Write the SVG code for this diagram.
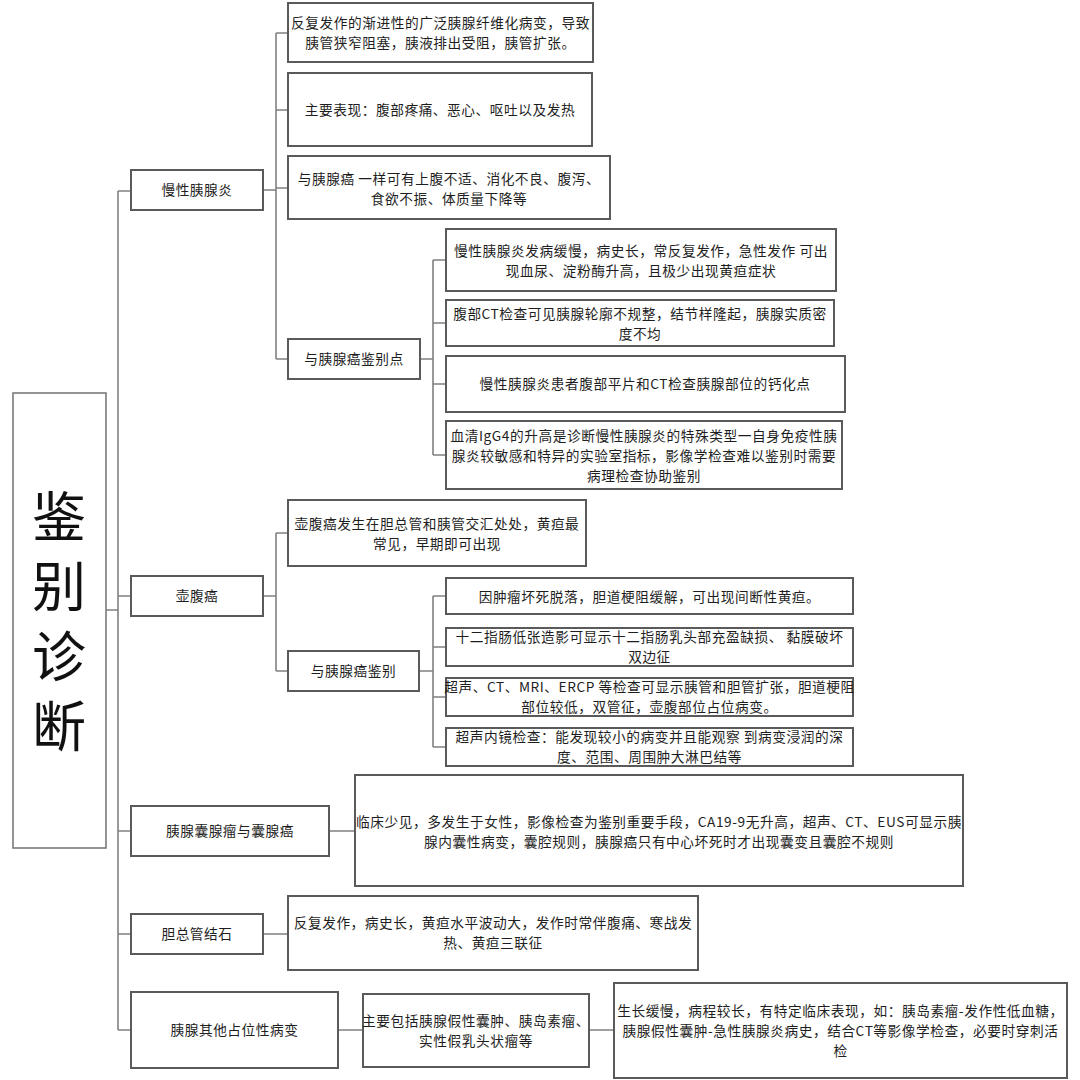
<svg xmlns="http://www.w3.org/2000/svg" width="1080" height="1080" viewBox="0 0 1080 1080">
<style>
.bx{fill:#fff;stroke:#5a5a5a;stroke-width:2}
.rt{fill:#fff;stroke:#7a7a7a;stroke-width:1.6}
.t{font-family:"Noto Sans CJK SC","Noto Sans",sans-serif;font-size:13.7px;letter-spacing:0.55px;fill:#1e1e1e;text-anchor:middle}
.big{font-family:"Noto Sans CJK SC","Noto Sans",sans-serif;font-size:54px;fill:#111;writing-mode:vertical-rl;letter-spacing:16px;text-anchor:start}
.cn{fill:none;stroke:#808080;stroke-width:1.6}
</style>
<rect width="1080" height="1080" fill="#fff"/>
<g id="connectors">
<path class="cn" d="M106,610H118M118,191V1030M118,191H131M118,596H131M118,831H131M118,934H131M118,1030H131"/>
<path class="cn" d="M263,190H276M276,33V359M276,33H288M276,110H288M276,188H288M276,359H288"/>
<path class="cn" d="M420,359H433M433,260V455M433,260H446M433,323H446M433,384H446M433,455H446"/>
<path class="cn" d="M263,596H276M276,533V671M276,533H288M276,671H288"/>
<path class="cn" d="M419,671H433M433,596V747M433,596H446M433,647H446M433,697H446M433,747H446"/>
<path class="cn" d="M329,831H355M263,934H288M338,1030H363M589,1030H614"/>
</g>
<g id="root">
<rect class="rt" x="13" y="393" width="93" height="455"/>
<text class="big" x="59" y="489">鉴别诊断</text>
</g>
<g id="n1">
<rect class="bx" x="131" y="170" width="132" height="40"/>
<text class="t" x="197" y="195">慢性胰腺炎</text>
</g>
<g id="n1a">
<rect class="bx" x="288" y="3" width="305" height="59"/>
<text class="t" x="440.5" y="28">反复发作的渐进性的广泛胰腺纤维化病变，导致<tspan x="440.5" dy="20">胰管狭窄阻塞，胰液排出受阻，胰管扩张。</tspan></text>
</g>
<g id="n1b">
<rect class="bx" x="288" y="73" width="304" height="73"/>
<text class="t" x="440" y="115">主要表现：腹部疼痛、恶心、呕吐以及发热</text>
</g>
<g id="n1c">
<rect class="bx" x="288" y="156" width="322" height="63"/>
<text class="t" x="449" y="184">与胰腺癌 一样可有上腹不适、消化不良、腹泻、<tspan x="449" dy="20">食欲不振、体质量下降等</tspan></text>
</g>
<g id="n1d">
<rect class="bx" x="288" y="339" width="132" height="40"/>
<text class="t" x="354" y="364">与胰腺癌鉴别点</text>
</g>
<g id="n1d1">
<rect class="bx" x="446" y="229" width="390" height="62"/>
<text class="t" x="641" y="256">慢性胰腺炎发病缓慢，病史长，常反复发作，急性发作 可出<tspan x="641" dy="20">现血尿、淀粉酶升高，且极少出现黄疸症状</tspan></text>
</g>
<g id="n1d2">
<rect class="bx" x="446" y="300" width="388" height="46"/>
<text class="t" x="640" y="319">腹部CT检查可见胰腺轮廓不规整，结节样隆起，胰腺实质密<tspan x="640" dy="20">度不均</tspan></text>
</g>
<g id="n1d3">
<rect class="bx" x="446" y="356" width="399" height="56"/>
<text class="t" x="645" y="389">慢性胰腺炎患者腹部平片和CT检查胰腺部位的钙化点</text>
</g>
<g id="n1d4">
<rect class="bx" x="446" y="421" width="396" height="68"/>
<text class="t" x="644" y="441">血清IgG4的升高是诊断慢性胰腺炎的特殊类型一自身免疫性胰<tspan x="644" dy="20">腺炎较敏感和特异的实验室指标，影像学检查难以鉴别时需要</tspan><tspan x="644" dy="20">病理检查协助鉴别</tspan></text>
</g>
<g id="n2">
<rect class="bx" x="131" y="576" width="132" height="40"/>
<text class="t" x="197" y="601">壶腹癌</text>
</g>
<g id="n2a">
<rect class="bx" x="288" y="500" width="298" height="66"/>
<text class="t" x="437" y="529">壶腹癌发生在胆总管和胰管交汇处处，黄疸最<tspan x="437" dy="20">常见，早期即可出现</tspan></text>
</g>
<g id="n2b">
<rect class="bx" x="288" y="651" width="131" height="40"/>
<text class="t" x="353.5" y="676">与胰腺癌鉴别</text>
</g>
<g id="n2b1">
<rect class="bx" x="446" y="578" width="407" height="36"/>
<text class="t" x="649.5" y="602">因肿瘤坏死脱落，胆道梗阻缓解，可出现间断性黄疸。</text>
</g>
<g id="n2b2">
<rect class="bx" x="446" y="628" width="407" height="38"/>
<text class="t" x="649.5" y="642">十二指肠低张造影可显示十二指肠乳头部充盈缺损、 黏膜破坏<tspan x="649.5" dy="20">双边征</tspan></text>
</g>
<g id="n2b3">
<rect class="bx" x="446" y="678" width="407" height="38"/>
<text class="t" x="649.5" y="692">超声、CT、MRI、ERCP 等检查可显示胰管和胆管扩张，胆道梗阻<tspan x="649.5" dy="20">部位较低，双管征，壶腹部位占位病变。</tspan></text>
</g>
<g id="n2b4">
<rect class="bx" x="446" y="728" width="407" height="38"/>
<text class="t" x="649.5" y="742">超声内镜检查：能发现较小的病变并且能观察 到病变浸润的深<tspan x="649.5" dy="20">度、范围、周围肿大淋巴结等</tspan></text>
</g>
<g id="n3">
<rect class="bx" x="131" y="806" width="198" height="50"/>
<text class="t" x="230" y="836">胰腺囊腺瘤与囊腺癌</text>
</g>
<g id="n3a">
<rect class="bx" x="355" y="775" width="608" height="111"/>
<text class="t" x="659" y="827">临床少见，多发生于女性，影像检查为鉴别重要手段，CA19-9无升高，超声、CT、EUS可显示胰<tspan x="659" dy="20">腺内囊性病变，囊腔规则，胰腺癌只有中心坏死时才出现囊变且囊腔不规则</tspan></text>
</g>
<g id="n4">
<rect class="bx" x="131" y="914" width="132" height="40"/>
<text class="t" x="197" y="939">胆总管结石</text>
</g>
<g id="n4a">
<rect class="bx" x="288" y="896" width="410" height="74"/>
<text class="t" x="493" y="928">反复发作，病史长，黄疸水平波动大，发作时常伴腹痛、寒战发<tspan x="493" dy="20">热、黄疸三联征</tspan></text>
</g>
<g id="n5">
<rect class="bx" x="131" y="992" width="207" height="76"/>
<text class="t" x="234.5" y="1035">胰腺其他占位性病变</text>
</g>
<g id="n5a">
<rect class="bx" x="363" y="994" width="226" height="73"/>
<text class="t" x="476" y="1026">主要包括胰腺假性囊肿、胰岛素瘤、<tspan x="476" dy="20">实性假乳头状瘤等</tspan></text>
</g>
<g id="n5b">
<rect class="bx" x="614" y="983" width="453" height="95"/>
<text class="t" x="840.5" y="1016">生长缓慢，病程较长，有特定临床表现，如：胰岛素瘤-发作性低血糖，<tspan x="840.5" dy="20">胰腺假性囊肿-急性胰腺炎病史，结合CT等影像学检查，必要时穿刺活</tspan><tspan x="840.5" dy="20">检</tspan></text>
</g>
</svg>
